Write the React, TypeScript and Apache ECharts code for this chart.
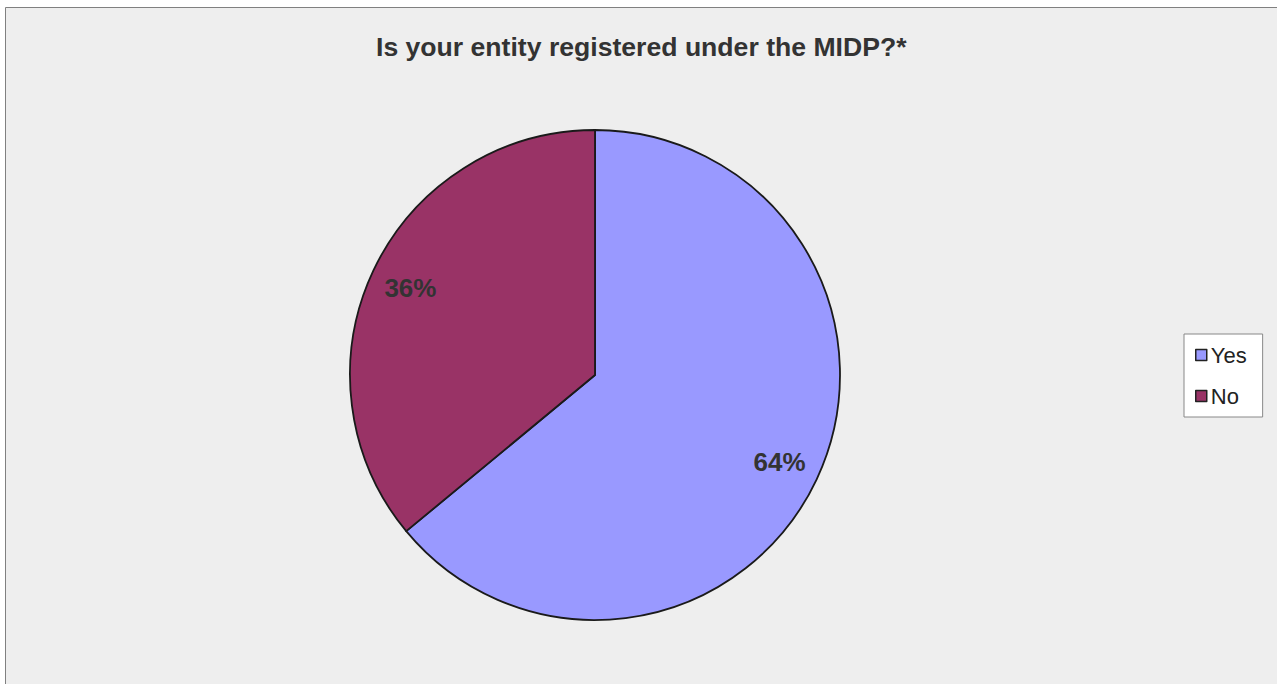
import React, { useEffect, useRef } from "react";
import * as echarts from "echarts";

const titleText = "Is your entity registered under the MIDP?*";
const categories = ["Yes", "No"];
const values = [64, 36];
const colors = ["#9999FF", "#993366"];

export default function App() {
  const ref = useRef<HTMLDivElement>(null);
  useEffect(() => {
    if (!ref.current) return;
    const chart = echarts.init(ref.current, null, { renderer: "svg" });
    const data = categories.map((name, i) => ({
      name,
      value: values[i],
      itemStyle: { color: colors[i] },
    }));
    chart.setOption({
      animation: false,
      backgroundColor: "#FFFFFF",
      graphic: [
        {
          type: "rect",
          shape: { x: 5.5, y: 7.5, width: 1300, height: 700 },
          style: { fill: "#EEEEEE", stroke: "#808080", lineWidth: 1 },
          z: -10,
        },
      ],
      title: {
        text: titleText,
        left: 371,
        top: 28,
        textStyle: {
          fontFamily: "Liberation Sans, Arial, sans-serif",
          fontSize: 26.6,
          fontWeight: "bold",
          color: "#333333",
        },
      },
      legend: {
        orient: "vertical",
        left: 1184,
        top: 334,
        padding: [10, 16, 10, 11],
        borderColor: "#888888",
        borderWidth: 1,
        backgroundColor: "#FFFFFF",
        itemGap: 19,
        itemWidth: 11,
        itemHeight: 11,
        icon: "rect",
        itemStyle: { borderColor: "#222222", borderWidth: 1.5 },
        textStyle: {
          fontFamily: "Liberation Sans, Arial, sans-serif",
          fontSize: 22,
          lineHeight: 22,
          color: "#222222",
          padding: [0, 0, 0, -1],
        },
        data: categories,
      },
      series: [
        {
          type: "pie",
          center: [595, 375],
          radius: [0, 245],
          startAngle: 90,
          clockwise: true,
          silent: true,
          label: { show: false },
          labelLine: { show: false },
          itemStyle: { borderColor: "#1A1A1A", borderWidth: 1.8 },
          data,
        },
        {
          type: "pie",
          center: [595, 375],
          radius: [157, 245],
          startAngle: 90,
          clockwise: true,
          silent: true,
          legendHoverLink: false,
          itemStyle: { color: "transparent", borderWidth: 0 },
          label: {
            show: true,
            position: "inside",
            formatter: (p: any) => `${p.value}%`,
            fontFamily: "Liberation Sans, Arial, sans-serif",
            fontSize: 26,
            fontWeight: "bold",
            color: "#333333",
          },
          labelLine: { show: false },
          data: categories.map((name, i) => ({ name: name + " ", value: values[i] })),
        },
      ],
    });
    return () => chart.dispose();
  }, []);
  return (
    <div
      ref={ref}
      style={{ position: "fixed", left: 0, top: 0, width: 1277, height: 684 }}
    />
  );
}
